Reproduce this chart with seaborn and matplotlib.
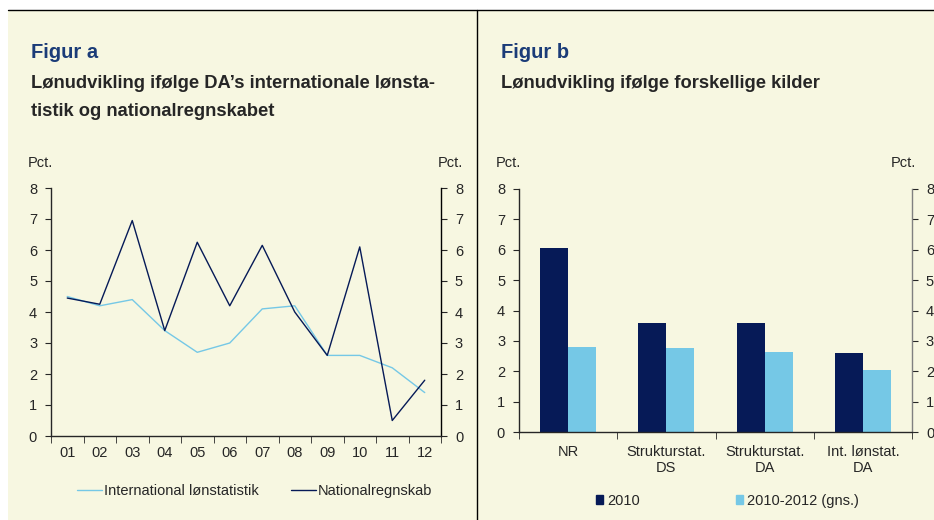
#Wage development charts (Figur a + Figur b)

#Import modules
import matplotlib.pyplot as plt
from matplotlib.lines import Line2D
from matplotlib.patches import Patch
import pandas as pd
import seaborn as sb

#Data
years = ['01', '02', '03', '04', '05', '06', '07', '08', '09', '10', '11', '12']
int_loen = [4.5, 4.2, 4.4, 3.4, 2.7, 3.0, 4.1, 4.2, 2.6, 2.6, 2.2, 1.4]
nat_regn = [4.45, 4.25, 6.95, 3.4, 6.25, 4.2, 6.15, 4.0, 2.6, 6.1, 0.5, 1.8]

sources = ['NR', 'Strukturstat.\nDS', 'Strukturstat.\nDA', 'Int. lønstat.\nDA']
val_2010 = [6.05, 3.6, 3.6, 2.6]
val_avg = [2.8, 2.75, 2.65, 2.05]

#Colours
bg = '#F7F7E1'
navy = '#061A57'
light = '#75C8E6'
title_blue = '#1B3C78'

sb.set_style('ticks')
plt.rcParams['font.family'] = ['Liberation Sans', 'DejaVu Sans']

W, H = 934, 520
fig = plt.figure(figsize = (W / 100, H / 100), dpi = 100)
fig.patch.set_facecolor('white')

def box(x0, y0, x1, y1):
    return [x0 / W, 1 - y1 / H, (x1 - x0) / W, (y1 - y0) / H]

#Background panel and frame lines
bgax = fig.add_axes([0, 0, 1, 1])
bgax.set_xlim(0, W)
bgax.set_ylim(H, 0)
bgax.axis('off')
bgax.add_patch(plt.Rectangle((8, 10), W - 8, H - 10, color = bg, lw = 0))
bgax.plot([8, W], [10, 10], color = 'black', lw = 1)
bgax.plot([477, 477], [10, H], color = 'black', lw = 1)

#Texts
fig.text(31 / W, 1 - 53 / H, 'Figur a', color = title_blue, fontsize = 14.5, fontweight = 'bold', va = 'center')
fig.text(31 / W, 1 - 84 / H, 'Lønudvikling ifølge DA’s internationale lønsta-', fontsize = 13.2, fontweight = 'bold', va = 'center')
fig.text(31 / W, 1 - 111 / H, 'tistik og nationalregnskabet', fontsize = 13.2, fontweight = 'bold', va = 'center')
fig.text(501 / W, 1 - 53 / H, 'Figur b', color = title_blue, fontsize = 14.5, fontweight = 'bold', va = 'center')
fig.text(501 / W, 1 - 83 / H, 'Lønudvikling ifølge forskellige kilder', fontsize = 13.2, fontweight = 'bold', va = 'center')

fig.text(28 / W, 1 - 163 / H, 'Pct.', fontsize = 10.5, va = 'center')
fig.text(463 / W, 1 - 163 / H, 'Pct.', fontsize = 10.5, va = 'center', ha = 'right')
fig.text(496 / W, 1 - 163 / H, 'Pct.', fontsize = 10.5, va = 'center')
fig.text(916 / W, 1 - 163 / H, 'Pct.', fontsize = 10.5, va = 'center', ha = 'right')

def style_axis(ax, right_color):
    ax.set_facecolor('none')
    ax.set_ylim(0, 8)
    ax.set_yticks(range(0, 9))
    ax.set_xlabel('')
    ax.set_ylabel('')
    ax.spines['top'].set_visible(False)
    ax.spines['right'].set_visible(True)
    ax.spines['right'].set_color(right_color)
    ax.tick_params(axis = 'y', which = 'both', left = True, right = True, labelleft = True,
                   labelright = True, direction = 'out', length = 4, labelsize = 10.5, pad = 6)
    ax.tick_params(axis = 'x', which = 'major', length = 0, labelsize = 10.5, pad = 7)
    ax.tick_params(axis = 'x', which = 'minor', length = 5, direction = 'out')
    for sp in ax.spines.values():
        sp.set_linewidth(1)

#Figur a - line chart
df_a = pd.DataFrame({'x': list(range(len(years))) * 2,
                     'value': int_loen + nat_regn,
                     'serie': ['International lønstatistik'] * len(years) + ['Nationalregnskab'] * len(years)})
ax1 = fig.add_axes(box(51, 188, 441, 436))
sb.lineplot(data = df_a, x = 'x', y = 'value', hue = 'serie', palette = [light, navy],
            linewidth = 1.0, legend = False, ax = ax1)
ax1.set_xlim(-0.5, len(years) - 0.5)
ax1.set_xticks(range(len(years)))
ax1.set_xticklabels(years)
ax1.set_xticks([i - 0.5 for i in range(len(years) + 1)], minor = True)
style_axis(ax1, 'black')

#Figur b - bar chart
df_b = pd.DataFrame({'kilde': sources * 2,
                     'value': val_2010 + val_avg,
                     'serie': ['2010'] * len(sources) + ['2010-2012 (gns.)'] * len(sources)})
ax2 = fig.add_axes(box(519, 189, 912, 432))
sb.barplot(data = df_b, x = 'kilde', y = 'value', hue = 'serie', palette = [navy, light],
           width = 0.57, saturation = 1, linewidth = 0, legend = False, ax = ax2)
ax2.set_xlim(-0.5, len(sources) - 0.5)
ax2.set_xticks([i - 0.5 for i in range(len(sources) + 1)], minor = True)
style_axis(ax2, '#808080')
ax2.tick_params(axis = 'x', which = 'major', pad = 9)

#Legends
fig.legend(handles = [Line2D([], [], color = light, lw = 1.0), Line2D([], [], color = navy, lw = 1.0)],
           labels = ['International lønstatistik', 'Nationalregnskab'], ncol = 2,
           loc = 'center left', bbox_to_anchor = (64 / W, 1 - 491 / H), frameon = False,
           fontsize = 10.5, handlelength = 1.7, handletextpad = 0.15, columnspacing = 2.2)
fig.legend(handles = [Patch(color = navy), Patch(color = light)],
           labels = ['2010', '2010-2012 (gns.)'], ncol = 2,
           loc = 'center left', bbox_to_anchor = (583 / W, 1 - 501 / H), frameon = False,
           fontsize = 10.5, handlelength = 0.5, handleheight = 0.6, handletextpad = 0.25, columnspacing = 6.6)

plt.savefig('out.png', dpi = 100, facecolor = fig.get_facecolor())
